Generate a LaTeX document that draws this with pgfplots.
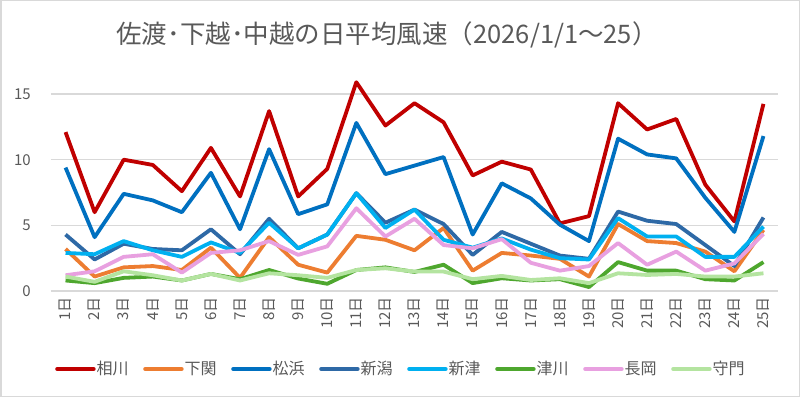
\documentclass[border=0pt]{standalone}
\usepackage{pgfplots}
\pgfplotsset{compat=1.18}
\usepackage{pgfplotstable}
\usepackage{fontspec}
\setmainfont{Noto Sans CJK JP}
\definecolor{cA}{HTML}{C00000}
\definecolor{cB}{HTML}{ED7D31}
\definecolor{cC}{HTML}{0070C0}
\definecolor{cD}{HTML}{2E69A6}
\definecolor{cE}{HTML}{00B0F0}
\definecolor{cF}{HTML}{4EA72E}
\definecolor{cG}{HTML}{E8A0E0}
\definecolor{cH}{HTML}{B4E4A0}
\definecolor{txt}{HTML}{595959}
\definecolor{gridc}{HTML}{D9D9D9}
\pgfplotstableread{
d aik shi mat nii nit tsu nag sum
1 12.1 3.2 9.4 4.3 2.9 0.8 1.2 1.1
2 6.0 1.1 4.1 2.4 2.8 0.6 1.5 0.7
3 10.0 1.8 7.4 3.6 3.8 1.0 2.6 1.5
4 9.6 1.9 6.9 3.2 3.1 1.1 2.8 1.2
5 7.6 1.6 6.0 3.1 2.6 0.8 1.4 0.8
6 10.9 3.3 9.0 4.7 3.7 1.3 2.9 1.3
7 7.2 1.0 4.7 2.8 2.9 0.9 3.1 0.8
8 13.7 4.1 10.8 5.5 5.2 1.6 3.8 1.35
9 7.2 2.0 5.85 3.25 3.25 0.95 2.75 1.2
10 9.3 1.4 6.6 4.3 4.3 0.55 3.4 1.0
11 15.9 4.2 12.8 7.45 7.45 1.6 6.3 1.6
12 12.6 3.9 8.9 5.2 4.8 1.8 4.15 1.73
13 14.3 3.1 9.55 6.2 6.2 1.45 5.5 1.48
14 12.85 4.8 10.2 5.1 3.9 2.0 3.5 1.48
15 8.8 1.55 4.3 2.75 3.3 0.6 3.25 0.9
16 9.85 2.9 8.2 4.5 4.0 0.97 3.95 1.15
17 9.25 2.7 7.05 3.6 3.15 0.8 2.15 0.84
18 5.15 2.45 5.05 2.7 2.5 0.9 1.55 0.97
19 5.7 1.1 3.8 2.45 2.4 0.3 1.9 0.6
20 14.3 5.1 11.6 6.05 5.55 2.2 3.65 1.35
21 12.3 3.8 10.4 5.35 4.15 1.55 2.0 1.22
22 13.1 3.65 10.1 5.1 4.15 1.55 3.0 1.3
23 8.1 3.0 7.1 3.5 2.6 0.9 1.55 1.1
24 5.3 1.5 4.5 1.9 2.6 0.8 2.1 1.1
25 14.25 4.65 11.8 5.6 4.9 2.2 4.35 1.35
}\data
\begin{document}
\begin{tikzpicture}
\useasboundingbox (0,0) rectangle (800pt,397pt);
\fill[white] (0,0) rectangle (800pt,397pt);
\draw[gridc, line width=1.5pt] (0.75pt,0.75pt) rectangle (799.25pt,396.25pt);
\node[txt, font=\fontsize{25.5}{30}\selectfont] at (387pt,362pt) {佐渡･下越･中越の日平均風速（2026/1/1～25）};
\begin{axis}[
  at={(51pt,106pt)}, anchor=south west,
  scale only axis, width=727pt, height=229.8pt,
  xmin=0.5, xmax=25.5, ymin=0, ymax=17.5,
  xtick={1,...,25},
  xticklabels={1日,2日,3日,4日,5日,6日,7日,8日,9日,10日,11日,12日,13日,14日,15日,16日,17日,18日,19日,20日,21日,22日,23日,24日,25日},
  ytick={0,5,10,15},
  ymajorgrids, grid style={gridc, line width=1.2pt},
  axis line style={draw=none},
  major tick style={draw=none},
  /pgf/number format/assume math mode=true,
  ticklabel style={txt, font=\fontsize{15}{18}\selectfont},
  xticklabel style={rotate=90, anchor=east, inner ysep=0pt, inner xsep=6pt},
  yticklabel style={inner sep=0pt, xshift=-20pt},
  every axis plot/.append style={line width=3.8pt, line join=round, mark=none},
  legend columns=8,
  legend style={draw=none, fill=none, at={(0.4807,-0.3394)}, anchor=center,
    font=\fontsize{16}{19}\selectfont, text=txt, inner sep=0pt,
    nodes={inner sep=1pt},
    /tikz/every even column/.append style={column sep=13.5pt}},
  legend image code/.code={\draw[#1, line width=4.5pt, line cap=round] (2pt,0pt) -- (38pt,0pt);},
]
\addplot[cA] table[x=d, y=aik] {\data}; \addlegendentry{相川}
\addplot[cB] table[x=d, y=shi] {\data}; \addlegendentry{下関}
\addplot[cC] table[x=d, y=mat] {\data}; \addlegendentry{松浜}
\addplot[cD] table[x=d, y=nii] {\data}; \addlegendentry{新潟}
\addplot[cE] table[x=d, y=nit] {\data}; \addlegendentry{新津}
\addplot[cF] table[x=d, y=tsu] {\data}; \addlegendentry{津川}
\addplot[cG] table[x=d, y=nag] {\data}; \addlegendentry{長岡}
\addplot[cH] table[x=d, y=sum] {\data}; \addlegendentry{守門}
\end{axis}
\end{tikzpicture}
\end{document}
